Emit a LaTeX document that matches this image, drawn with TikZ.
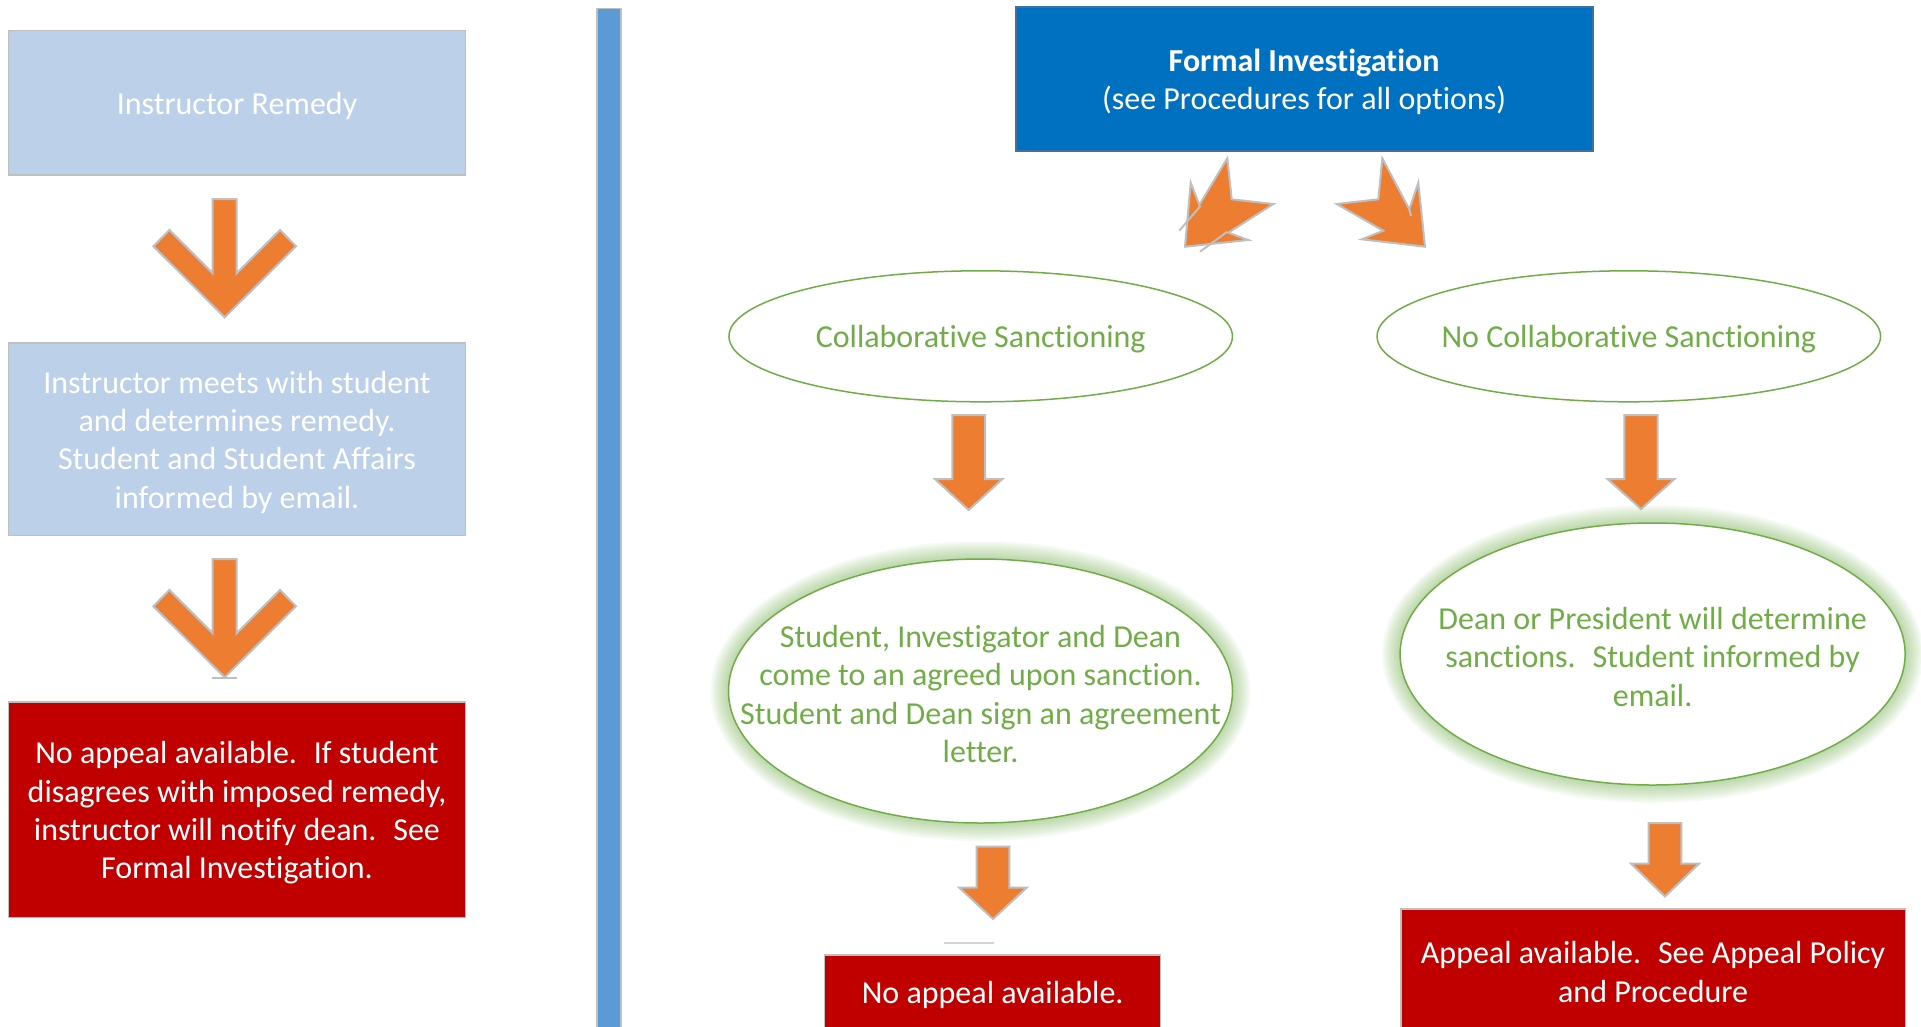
\documentclass[tikz,border=0pt]{standalone}
\usepackage{fontspec}
\setmainfont{Carlito}[Ligatures=NoCommon]
\usetikzlibrary{shapes.geometric}
\definecolor{graybd}{HTML}{BFBFBF}
\definecolor{lightblue}{HTML}{BDD0E9}
\definecolor{barblue}{HTML}{5B9BD5}
\definecolor{darkblue}{HTML}{0070C0}
\definecolor{darkred}{HTML}{C00000}
\definecolor{orng}{HTML}{ED7D31}
\definecolor{grn}{HTML}{70AD47}
\definecolor{navyedge}{HTML}{41719C}
\newcommand\blkarrow[6]{%
  \draw[orangearrow] (#1-#5,#2) -- (#1+#5,#2) -- (#1+#5,#3) -- (#1+#6,#3) -- (#1,#4) -- (#1-#6,#3) -- (#1-#5,#3) -- cycle;}
\tikzset{
  orangearrow/.style={fill=orng, draw=graybd, line width=2pt, line join=miter},
  lbox/.style={rectangle, draw=graybd, line width=1.5pt, fill=lightblue, inner sep=0pt, minimum width=457pt},
  redbox/.style={rectangle, draw=graybd, line width=1.5pt, fill=darkred, inner sep=0pt},
  sell/.style={ellipse, draw=grn, line width=1.5pt, fill=white, inner sep=0pt},
  glowring/.style={ellipse, fill=grn, fill opacity=0.06, draw=none, inner sep=0pt},
  artifact/.style={draw=graybd, line width=2pt},
  wtxt/.style={text=white, align=center, inner sep=0pt, yshift=-3pt},
  gtxt/.style={text=grn, align=center, inner sep=0pt, yshift=-3pt},
}
\begin{document}
\begin{tikzpicture}[x=1pt, y=-1pt, font=\fontsize{32}{38.3}\selectfont]
\path[use as bounding box] (0,0) rectangle (1921,1026);
\clip (0,0) rectangle (1921,1026);
\fill[white] (0,0) rectangle (1921,1026);

% ---------- left column ----------
\node[lbox, minimum height=144.6pt] (ir) at (237,102.9) {};
\node[wtxt] (irt) at (ir.center) {Instructor Remedy};
\begin{scope}[shift={(224.7,199)}]
  \draw[orangearrow] (-12,0) -- (12,0) -- (12,74.3) -- (55.3,31) -- (71.3,47.3) -- (0,118.3) -- (-71.3,47.3) -- (-55.3,31) -- (-12,74.3) -- cycle;
\end{scope}
\node[lbox, minimum height=192.4pt] (meet) at (237,439.2) {};
\node[wtxt] (meett) at (meet.center) {Instructor meets with student\\and determines remedy.\\Student and Student Affairs\\informed by email.};
\begin{scope}[shift={(224.7,559)}]
  \draw[orangearrow] (-12,0) -- (12,0) -- (12,74.3) -- (55.3,31) -- (71.3,47.3) -- (0,118.3) -- (-71.3,47.3) -- (-55.3,31) -- (-12,74.3) -- cycle;
\end{scope}
\draw[artifact] (212,678) -- (237,678);
\node[redbox, minimum width=457pt, minimum height=215.6pt] (noapp1) at (237,809.8) {};
\node[wtxt] (noapp1t) at (noapp1.center) {No appeal available.~ If student\\disagrees with imposed remedy,\\instructor will notify dean.~ See\\Formal Investigation.};

% ---------- divider ----------
\node[rectangle, draw=graybd, line width=1.5pt, fill=barblue, minimum width=24pt, minimum height=1030pt, inner sep=0pt] (bar) at (608.8,523.6) {};

% ---------- right part ----------
\node[rectangle, draw=navyedge, line width=2pt, fill=darkblue, inner sep=0pt, minimum width=577pt, minimum height=143.3pt] (formal) at (1304.1,79) {};
\node[wtxt] (formalt) at (formal.center) {\textbf{Formal Investigation}\\(see Procedures for all options)};

% broken curved arrows
\draw[orangearrow] (1227.3,158.3) -- (1231.7,199.3) -- (1273.3,204) -- (1228.3,232.7) -- (1248.3,240) -- (1185,246.7) -- (1190.7,182.7) -- (1199.3,205) -- cycle;
\draw[artifact] (1179.3,230.7) -- (1200.7,205.7);
\draw[artifact] (1200,251.7) -- (1227.3,231.7);
\draw[orangearrow] (1382.3,158.3) -- (1378.3,199.3) -- (1336.7,204) -- (1383.3,230.7) -- (1361.7,239.3) -- (1425,246.7) -- (1418.3,182.7) -- (1409.3,209.3) -- cycle;
\draw[artifact] (1409.3,209.3) -- (1411,216);

\node[sell, minimum width=503.5pt, minimum height=131pt] (collab) at (980.7,336.3) {};
\node[gtxt] (collabt) at (collab.center) {Collaborative Sanctioning};
\node[sell, minimum width=503.5pt, minimum height=131pt] (nocollab) at (1628.8,336.3) {};
\node[gtxt] (nocollabt) at (nocollab.center) {No Collaborative Sanctioning};

\blkarrow{968.7}{415}{479}{510}{16.3}{33.8}
\blkarrow{1641}{415}{479}{509}{16.7}{33.5}

% glows
\foreach \i in {2,4,...,18} {
  \node[glowring, minimum width={504+2*\i}, minimum height={264+2*\i}] at (980.5,691) {};
  \node[glowring, minimum width={505+2*\i}, minimum height={262+2*\i}] at (1652.6,654) {};
}
\node[sell, minimum width=504pt, minimum height=264pt] (agree) at (980.5,691) {};
\node[gtxt] (agreet) at (agree.center) {Student, Investigator and Dean\\come to an agreed upon sanction.\\Student and Dean sign an agreement\\letter.};
\node[sell, minimum width=505pt, minimum height=262pt] (determine) at (1652.6,654) {};
\node[gtxt] (determinet) at (determine.center) {Dean or President will determine\\sanctions.~ Student informed by\\email.};

\blkarrow{993}{846.7}{887.7}{919}{16.3}{33.7}
\blkarrow{1665}{823}{863.7}{896.5}{16.4}{33.9}

\draw[draw=graybd!70, line width=2pt] (944,942.7) -- (993.7,942.7);
\node[redbox, minimum width=336pt, minimum height=73pt] (noapp2) at (992.7,991.5) {};
\node[wtxt] (noapp2t) at (noapp2.center) {No appeal available.};
\node[redbox, minimum width=504.6pt, minimum height=120pt] (appeal) at (1653.1,969) {};
\node[wtxt] (appealt) at (appeal.center) {Appeal available.~ See Appeal Policy\\and Procedure};
\end{tikzpicture}
\end{document}
